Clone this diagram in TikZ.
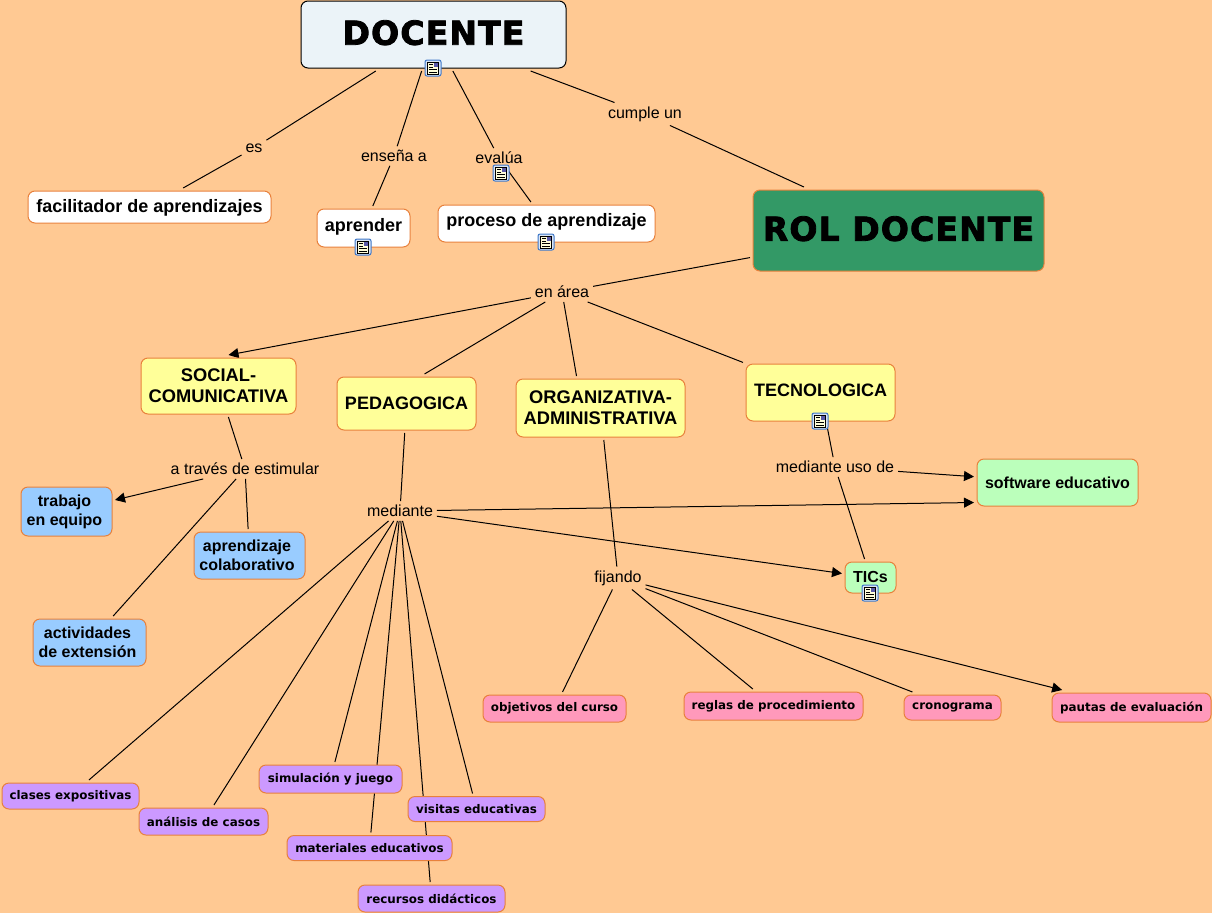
\documentclass[tikz,border=0pt]{standalone}
\usepackage{fontspec}
\setmainfont{Liberation Sans}
\newfontfamily\verdanafont{DejaVu Sans}
\newfontfamily\blackfont{DejaVu Sans}[BoldFeatures={FakeBold=2.4,LetterSpace=3.5}]
\usetikzlibrary{arrows.meta,positioning,calc,backgrounds}
\pgfdeclarelayer{paper}
\pgfsetlayers{paper,background,main}

\definecolor{paperbg}{HTML}{FFC993}
\definecolor{bordercol}{HTML}{E8813C}
\definecolor{topfill}{HTML}{EBF3F8}
\definecolor{rolfill}{HTML}{339966}
\definecolor{yellowfill}{HTML}{FFFF99}
\definecolor{greenfill}{HTML}{BBFFBB}
\definecolor{bluefill}{HTML}{99CCFF}
\definecolor{pinkfill}{HTML}{FF99BB}
\definecolor{purplefill}{HTML}{CC99FF}
\definecolor{iconblue}{HTML}{3F78C8}

\newcommand{\nudge}[1]{\hspace*{#1pt}}

\tikzset{
    concept/.style={draw=bordercol, line width=1pt, rounded corners=7pt, align=center,
        inner sep=0pt, outer sep=3pt, text=black, font=\fontsize{18}{21}\selectfont\bfseries},
    wideconcept/.style={concept, font=\fontsize{18.3}{21}\selectfont\bfseries},
    midconcept/.style={concept, font=\fontsize{16}{19}\selectfont\bfseries},
    bigconcept/.style={concept, text depth=4pt, font=\fontsize{33}{38}\blackfont\bfseries},
    smallconcept/.style={concept, font=\fontsize{11.9}{15}\verdanafont\bfseries},
    linklabel/.style={inner sep=2pt, outer sep=2pt, text=black, font=\fontsize{16}{19}\selectfont},
    link/.style={line width=1pt, black},
    linkarrow/.style={link, -{Triangle[length=10pt,width=10pt]}},
    docicon/.pic={
        \draw[iconblue, fill=iconblue!20, line width=1pt, rounded corners=2pt] (-8,-8) rectangle (8,8);
        \draw[black, fill=yellow!15, line width=.8pt] (-5.5,-6) rectangle (5.5,6);
        \fill[gray!70!blue] (0.5,-5) rectangle (4.5,-1);
        \draw[black, line width=.8pt] (-4,-3.5) -- (-0.5,-3.5) (-4,-1) -- (-0.5,-1) (-4,1.5) -- (4,1.5) (-4,4) -- (4,4);
    }
}

\begin{document}
\begin{tikzpicture}[x=1pt, y=-1pt]
        % Page
        \useasboundingbox (0,0) rectangle (1212,913);
        \begin{pgfonlayer}{paper}
            \fill[paperbg] (0,0) rectangle (1212,913);
        \end{pgfonlayer}

        % Draw the top of the map
        \node[bigconcept, draw=black, fill=topfill, minimum width=265, minimum height=67] (docente) at (433.5,34.5) {DOCENTE};
        \node[concept, text depth=2pt, fill=white, minimum width=243, minimum height=32] (facilitador) at (149.5,207) {facilitador de aprendizajes};
        \node[concept, text depth=6pt, fill=white, minimum width=93, minimum height=38] (aprender) at (363.5,228) {aprender};
        \node[concept, text depth=7pt, fill=white, minimum width=217, minimum height=37] (proceso) at (546.5,223.5) {proceso de aprendizaje};
        \node[bigconcept, fill=rolfill, minimum width=291, minimum height=81] (rol) at (898.5,230.5) {ROL DOCENTE};

        % Draw the four areas
        \node[wideconcept, fill=yellowfill, minimum width=155, minimum height=56] (social) at (218.5,386) {SOCIAL-\\COMUNICATIVA};
        \node[concept, fill=yellowfill, minimum width=139, minimum height=53] (pedagogica) at (406.5,403.5) {PEDAGOGICA};
        \node[wideconcept, fill=yellowfill, minimum width=169, minimum height=58] (organizativa) at (600.5,408) {ORGANIZATIVA-\\ADMINISTRATIVA};
        \node[concept, text depth=4pt, fill=yellowfill, minimum width=149, minimum height=57] (tecnologica) at (820.5,392.5) {TECNOLOGICA};

        % Draw the green boxes
        \node[midconcept, fill=greenfill, minimum width=161, minimum height=47] (software) at (1057.5,482.5) {software educativo};
        \node[midconcept, text depth=2pt, fill=greenfill, minimum width=51, minimum height=31] (tics) at (870.5,577.5) {TICs};

        % Draw the blue boxes
        \node[midconcept, fill=bluefill, minimum width=91, minimum height=49] (trabajo) at (66.5,511.5) {trabajo\nudge{4}\\en equipo\nudge{4}};
        \node[midconcept, fill=bluefill, minimum width=111, minimum height=47] (colaborativo) at (249.5,555.5) {aprendizaje\nudge{5}\\colaborativo\nudge{5}};
        \node[midconcept, fill=bluefill, minimum width=113, minimum height=47] (extension) at (89.5,642.5) {actividades\nudge{4}\\de extensi\'on\nudge{4}};

        % Draw the pink boxes
        \node[smallconcept, fill=pinkfill, minimum width=143, minimum height=27] (objetivos) at (554.5,708.5) {objetivos del curso};
        \node[smallconcept, fill=pinkfill, minimum width=179, minimum height=28] (reglas) at (773.5,706) {reglas de procedimiento};
        \node[smallconcept, fill=pinkfill, minimum width=97, minimum height=25] (cronograma) at (952.5,707.5) {cronograma};
        \node[smallconcept, fill=pinkfill, minimum width=159, minimum height=29] (pautas) at (1131.5,707.5) {pautas de evaluaci\'on};

        % Draw the purple boxes
        \node[smallconcept, fill=purplefill, minimum width=137, minimum height=26] (clases) at (70.5,796) {clases expositivas};
        \node[smallconcept, fill=purplefill, minimum width=129, minimum height=27] (analisis) at (203.5,821.5) {an\'alisis de casos};
        \node[smallconcept, fill=purplefill, minimum width=143, minimum height=28] (simulacion) at (330.5,779) {simulaci\'on y juego};
        \node[smallconcept, fill=purplefill, minimum width=137, minimum height=25] (visitas) at (476.5,809) {visitas educativas};
        \node[smallconcept, fill=purplefill, minimum width=165, minimum height=25] (materiales) at (369.5,848) {materiales educativos};
        \node[smallconcept, fill=purplefill, minimum width=147, minimum height=27] (recursos) at (431.5,898.5) {recursos did\'acticos};

        % Draw the linking phrases
        \node[linklabel] (es) at (254,148) {es};
        \node[linklabel] (ensena) at (394,156) {ense\~na a};
        \node[linklabel] (evalua) at (499,158) {eval\'ua};
        \node[linklabel] (cumple) at (645,114) {cumple un};
        \node[linklabel] (enarea) at (562,292) {en \'area};
        \node[linklabel] (traves) at (245,469) {a trav\'es de estimular};
        \node[linklabel] (mediante) at (400,511) {mediante};
        \node[linklabel] (fijando) at (618,578) {fijando};
        \node[linklabel] (usode) at (835,467) {mediante uso de};

        % Draw the plain connectors behind the boxes
        \begin{pgfonlayer}{background}
            \foreach \i/\j in {docente/es, es/facilitador, docente/ensena, ensena/aprender,
                docente/evalua, evalua/proceso, docente/cumple, cumple/rol, rol/enarea,
                enarea/tecnologica,
                social/traves, traves/colaborativo, traves/extension, pedagogica/mediante,
                mediante/clases, mediante/analisis, mediante/simulacion, mediante/materiales,
                mediante/visitas, mediante/recursos, organizativa/fijando, fijando/objetivos,
                fijando/reglas, fijando/cronograma, tecnologica/usode, usode/tics} {
                \draw[link] (\i) -- (\j);
            }
            \draw[link] (enarea) -- ($(pedagogica.north) + (18,0)$);
            \draw[link] (enarea) -- ($(organizativa.north) + (-24,0)$);

            % Draw the connectors with a head
            \foreach \i/\j in {traves/trabajo, usode/software, mediante/tics, fijando/pautas} {
                \draw[linkarrow] (\i) -- (\j);
            }
            \draw[linkarrow] (enarea) -- ($(social.north) + (10,0)$);
            \draw[linkarrow] (mediante) -- ($(software.west) + (0,20)$);
        \end{pgfonlayer}

        % Draw the document icons
        \foreach \a/\b in {433/68, 501/173, 546/242, 363/247, 820/421, 870/593} {
            \pic at (\a,\b) {docicon};
        }
\end{tikzpicture}
\end{document}
